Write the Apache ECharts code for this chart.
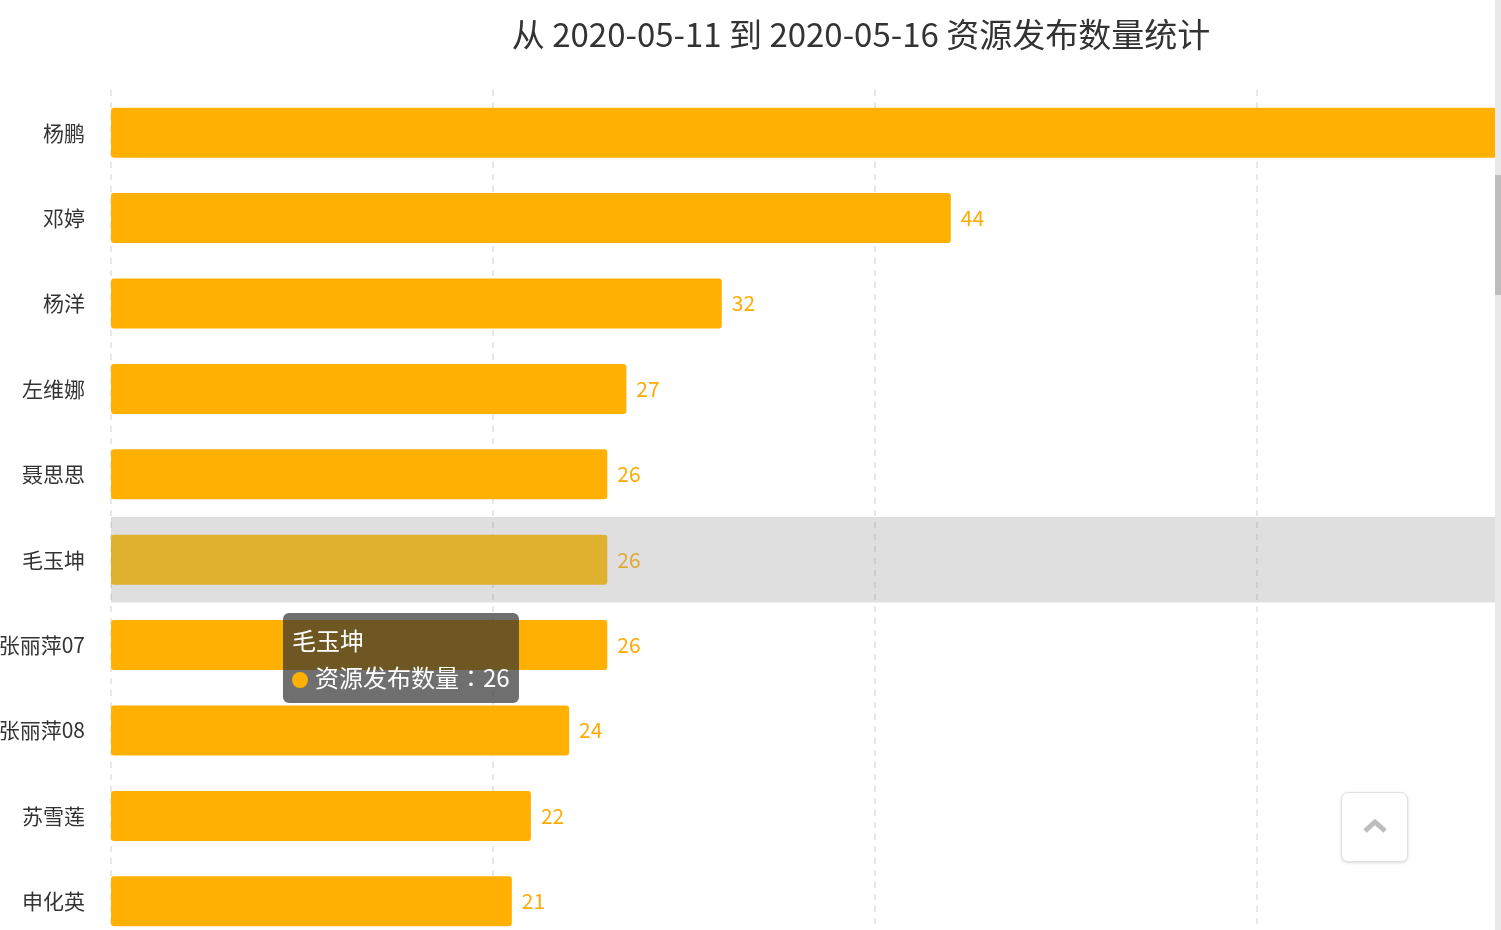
<!DOCTYPE html>
<html>
<head>
<meta charset="utf-8">
<script src="https://cdn.jsdelivr.net/npm/echarts@6/dist/echarts.min.js"></script>
<style>
html,body{margin:0;padding:0;width:1501px;height:930px;overflow:hidden;background:#fff;}
#chart{position:absolute;left:0;top:0;width:1722px;height:1000px;}
#sb{position:absolute;left:1495px;top:0;width:6px;height:930px;background:#e8e8e8;}
#thumb{position:absolute;left:0;top:175px;width:6px;height:120px;background:#bdbdbd;}
#totop{position:absolute;left:1341px;top:792px;width:65px;height:68px;background:#fff;border:1px solid #e2e2e2;border-radius:7px;box-shadow:0 1px 3px rgba(0,0,0,0.15);}
#totop svg{position:absolute;left:20px;top:26px;}
</style>
</head>
<body>
<div id="chart"></div>
<div id="totop"><svg width="26" height="16" viewBox="0 0 26 16"><polyline points="3,12 13,3 23,12" fill="none" stroke="#bdbdbd" stroke-width="5"/></svg></div>
<div id="sb"><div id="thumb"></div></div>
<script>
var titleText = '从 2020-05-11 到 2020-05-16 资源发布数量统计';
var seriesName = '资源发布数量';
var categories = ['杨鹏', '邓婷', '杨洋', '左维娜', '聂思思', '毛玉坤', '张丽萍07', '张丽萍08', '苏雪莲', '申化英'];
var values = [76, 44, 32, 27, 26, 26, 26, 24, 22, 21];
var hoverIndex = 5;

var FONT = '"Noto Sans CJK SC", "Noto Sans", sans-serif';
var chart = echarts.init(document.getElementById('chart'));
chart.setOption({
  animation: false,
  textStyle: { fontFamily: FONT },
  title: {
    text: titleText,
    left: 'center',
    top: 13,
    textStyle: { fontSize: 33, fontWeight: 'normal', color: '#333', fontFamily: FONT }
  },
  tooltip: {
    trigger: 'axis',
    axisPointer: { type: 'shadow', shadowStyle: { color: 'rgba(150,150,150,0.3)' } },
    position: [283, 613],
    alwaysShowContent: true,
    transitionDuration: 0,
    backgroundColor: 'rgba(50,50,50,0.7)',
    borderWidth: 0,
    padding: [8, 9, 8, 9],
    extraCssText: 'border-radius:6px;box-shadow:none;',
    formatter: function (params) {
      var p = params[0];
      return '<div style="font-size:24px;line-height:37px;color:#fff;font-family:' + FONT.replace(/"/g, "'") + '">' +
        p.name + '<br><span style="display:inline-block;width:16px;height:16px;border-radius:8px;background:#ffb000;margin-right:7px;vertical-align:-1px"></span>' +
        p.seriesName + '<span style="font-family:\'Noto Sans CJK TC\'">：</span>' + p.value + '</div>';
    }
  },
  grid: { left: 111, right: 84, top: 90, bottom: 56, containLabel: false, outerBoundsMode: 'none' },
  xAxis: {
    type: 'value',
    min: 0,
    max: 80,
    interval: 20,
    axisLine: { show: false },
    axisTick: { show: false },
    axisLabel: { show: false },
    splitLine: { show: true, lineStyle: { type: [6, 6], color: '#e0e0e0', width: 1.5 } }
  },
  yAxis: {
    type: 'category',
    inverse: true,
    data: categories,
    axisLine: { show: false },
    axisTick: { show: false },
    axisLabel: { margin: 26, fontSize: 21, color: '#333', fontFamily: FONT }
  },
  series: [{
    name: seriesName,
    type: 'bar',
    data: values,
    barWidth: 50,
    itemStyle: { color: '#ffb000', borderRadius: 3 },
    label: { show: true, position: 'right', distance: 10, color: '#ffaa00', fontSize: 21, fontFamily: FONT },
    emphasis: { itemStyle: { color: '#ffbe04' }, label: { color: '#ffb00c' } }
  }]
});
chart.dispatchAction({ type: 'showTip', seriesIndex: 0, dataIndex: hoverIndex });
chart.dispatchAction({ type: 'highlight', seriesIndex: 0, dataIndex: hoverIndex });
</script>
</body>
</html>
